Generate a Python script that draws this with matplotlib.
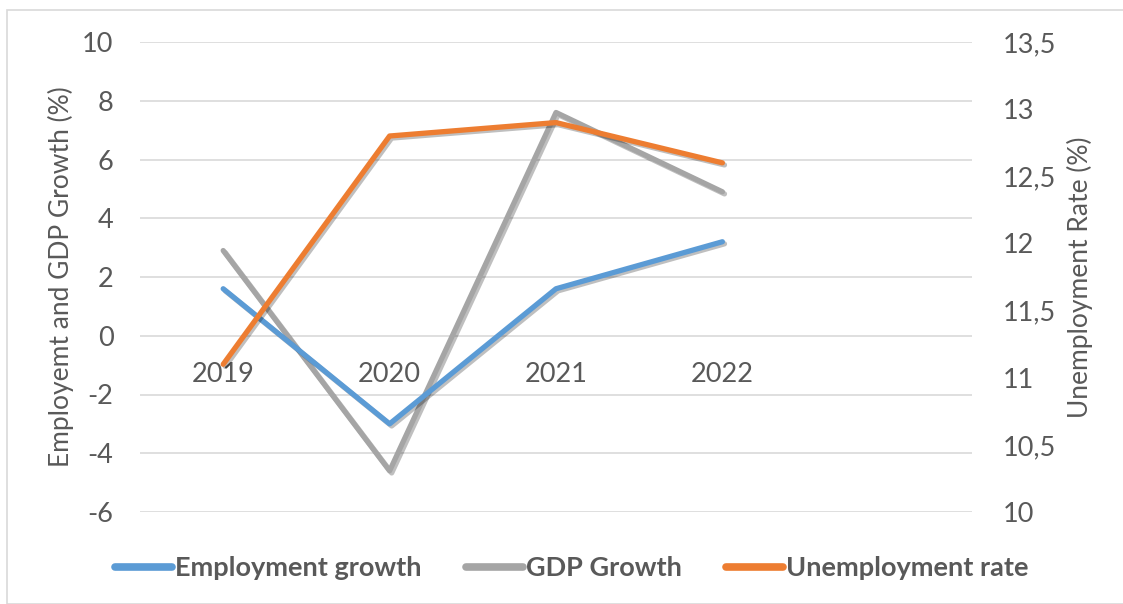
import matplotlib
matplotlib.use("Agg")
import matplotlib.pyplot as plt
import matplotlib.patheffects as pe
from matplotlib.patches import Rectangle
from matplotlib.lines import Line2D

years = ["2019", "2020", "2021", "2022"]
employment_growth = [1.6, -3.0, 1.6, 3.2]
gdp_growth = [2.9, -4.6, 7.6, 4.9]
unemployment_rate = [11.1, 12.8, 12.9, 12.6]
left_ticks = [-6, -4, -2, 0, 2, 4, 6, 8, 10]
right_ticks = [10, 10.5, 11, 11.5, 12, 12.5, 13, 13.5]
n_slots = 5

FONT = "Lato"
TXT = "#595959"
GRID = "#d9d9d9"
C_EMP = "#5b9bd5"
C_GDP = "#a5a5a5"
C_UNE = "#ed7d31"

plt.rcParams["font.family"] = [FONT, "DejaVu Sans"]

fig = plt.figure(figsize=(11.23, 6.04), dpi=100)
fig.patches.append(Rectangle((7/1123, 0), 2, 1 - 10/604, transform=fig.transFigure,
                             fill=False, edgecolor=GRID, lw=1.2))
ax = fig.add_axes([140/1123, 1 - 512/604, 832/1123, 470/604])
ax2 = ax.twinx()

x = list(range(len(years)))
shadow = [pe.SimpleLineShadow(offset=(1.5, -1.5), alpha=0.25), pe.Normal()]
ax.plot(x, employment_growth, color=C_EMP, lw=3.8, solid_capstyle="round", path_effects=shadow, zorder=3)
ax.plot(x, gdp_growth, color=C_GDP, lw=3.8, solid_capstyle="round", path_effects=shadow, zorder=2)
ax2.plot(x, unemployment_rate, color=C_UNE, lw=3.8, solid_capstyle="round", path_effects=shadow, zorder=4)

ax.set_xlim(-0.5, n_slots - 0.5)
ax.set_ylim(-6, 10)
ax2.set_ylim(10, 13.5)
ax.set_yticks(left_ticks)
ax.set_yticklabels([str(t) for t in left_ticks])
ax2.set_yticks(right_ticks)
ax2.set_yticklabels([("%g" % t).replace(".", ",") for t in right_ticks])
ax.set_xticks([])
ax.grid(axis="y", color=GRID, lw=1.2)
ax.set_axisbelow(True)
for a in (ax, ax2):
    for s in a.spines.values():
        s.set_visible(False)
    a.tick_params(length=0, labelsize=19.5, colors=TXT)
ax.tick_params(axis="y", pad=19)
ax2.tick_params(axis="y", pad=22)
for lab in ax2.get_yticklabels():
    lab.set_horizontalalignment("left")

for i, yr in enumerate(years):
    ax.annotate(yr, (i, 0), xytext=(0, -28), textcoords="offset points",
                ha="center", va="center", fontsize=19.5, color=TXT)

ax.set_ylabel("Employemt and GDP Growth (%)", fontsize=19, color=TXT, labelpad=6)
ax2.set_ylabel("Unemployment Rate (%)", fontsize=19, color=TXT, labelpad=8)

handles = [Line2D([], [], color=C_EMP, lw=5.5, solid_capstyle="round"),
           Line2D([], [], color=C_GDP, lw=5.5, solid_capstyle="round"),
           Line2D([], [], color=C_UNE, lw=5.5, solid_capstyle="round")]
leg = fig.legend(handles, ["Employment growth", "GDP Growth", "Unemployment rate"],
                 loc="center", bbox_to_anchor=(572/1123, 1 - 568/604), ncol=3, frameon=False,
                 handlelength=2.1, handletextpad=0.1, columnspacing=1.65,
                 prop={"family": FONT, "weight": "bold", "size": 19.5})
for t in leg.get_texts():
    t.set_color(TXT)

fig.savefig("out.png", dpi=100)
